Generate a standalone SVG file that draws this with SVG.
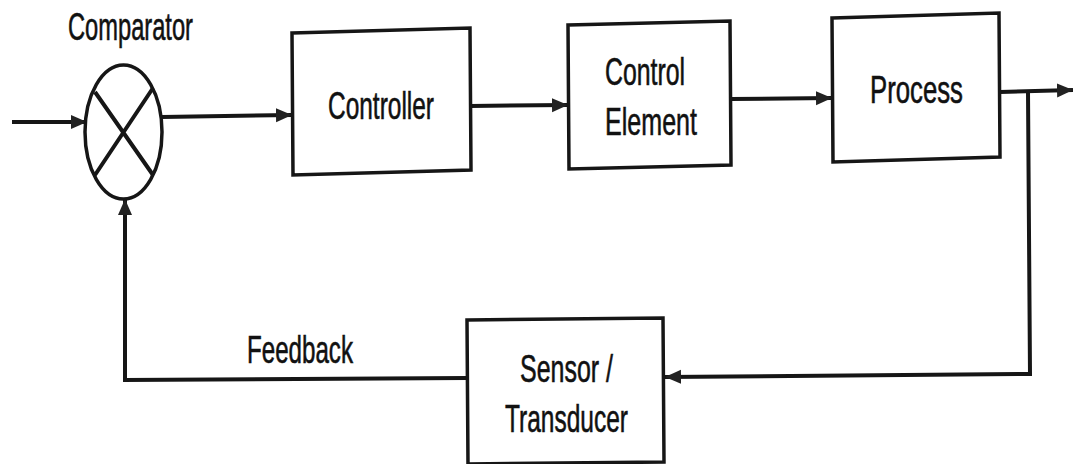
<svg xmlns="http://www.w3.org/2000/svg" width="1073" height="464" viewBox="0 0 1073 464">
<defs>
<style>
.box{fill:#ffffff;stroke:#161616;stroke-width:3.5;stroke-linejoin:miter}
.ln{fill:none;stroke:#161616;stroke-width:4}
.t{font-family:"Liberation Sans",Arial,sans-serif;font-size:39px;fill:#111111;stroke:#111111;stroke-width:0.6}
</style>
<marker id="ah" markerUnits="userSpaceOnUse" markerWidth="18" markerHeight="16" refX="16" refY="8" orient="auto">
<path d="M0,1 L16,8 L0,15 Z" fill="#222222"/>
</marker>
</defs>
<rect width="1073" height="464" fill="#ffffff"/>
<g id="connectors">
<path class="ln" d="M12,122 L87,122" marker-end="url(#ah)"/>
<path class="ln" d="M162,117 L292,115" marker-end="url(#ah)"/>
<path class="ln" d="M470,106 L568,105" marker-end="url(#ah)"/>
<path class="ln" d="M731,99 L832,98" marker-end="url(#ah)"/>
<path class="ln" d="M1000,92 L1073,90" marker-end="url(#ah)"/>
<path class="ln" d="M1028,92 L1030,374 L665,377" marker-end="url(#ah)"/>
<path class="ln" d="M467,378 L125,380 L125,199" marker-end="url(#ah)"/>
<text class="t" x="247" y="363" textLength="106" lengthAdjust="spacingAndGlyphs" font-size="39">Feedback</text>
</g>
<g id="comparator">
<ellipse cx="123.5" cy="132" rx="38.5" ry="67" fill="#ffffff" stroke="#161616" stroke-width="3.5"/>
<path class="ln" d="M95,92 L153,175 M153,88 L95,175" stroke-width="3"/>
<text class="t" x="68" y="40" textLength="125" lengthAdjust="spacingAndGlyphs" font-size="37">Comparator</text>
</g>
<g id="controller">
<polygon class="box" points="292,33 470,28 471,170 293,175"/>
<text class="t" x="328" y="119" textLength="106" lengthAdjust="spacingAndGlyphs" font-size="41">Controller</text>
</g>
<g id="control-element">
<polygon class="box" points="568,25 730,21 731,165 569,169"/>
<text class="t" x="605" y="85" textLength="80" lengthAdjust="spacingAndGlyphs" font-size="37">Control</text>
<text class="t" x="605" y="135" textLength="92" lengthAdjust="spacingAndGlyphs" font-size="38">Element</text>
</g>
<g id="process">
<polygon class="box" points="832,18 999,13 1000,157 833,162"/>
<text class="t" x="870" y="103" textLength="93" lengthAdjust="spacingAndGlyphs" font-size="38">Process</text>
</g>
<g id="sensor">
<polygon class="box" points="467,320 663,318 664,462 468,464"/>
<text class="t" x="520" y="382" textLength="93" lengthAdjust="spacingAndGlyphs" font-size="40">Sensor /</text>
<text class="t" x="505" y="432" textLength="123" lengthAdjust="spacingAndGlyphs" font-size="40">Transducer</text>
</g>
</svg>
